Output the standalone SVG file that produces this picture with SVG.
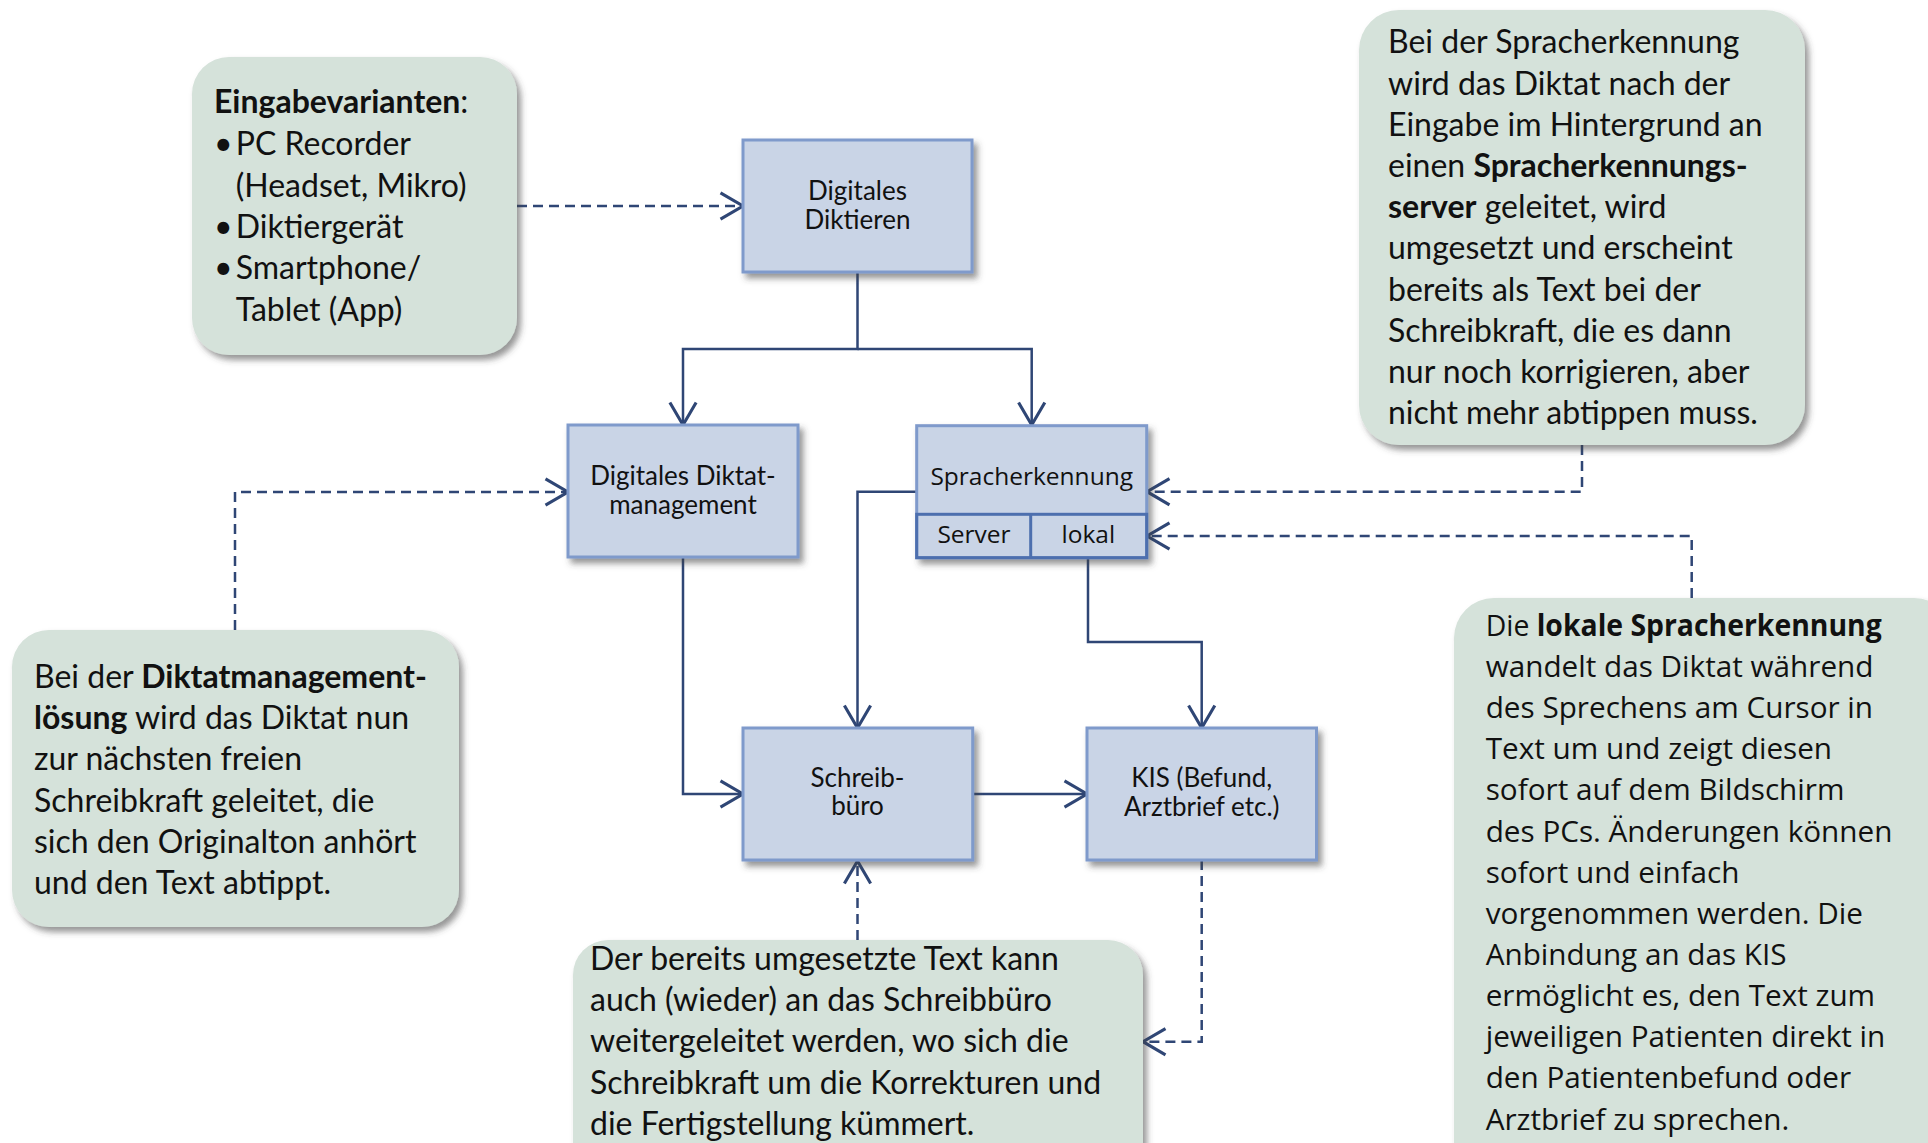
<svg xmlns="http://www.w3.org/2000/svg" width="1928" height="1143" viewBox="0 0 1928 1143">
<defs>
<filter id="sh" x="-10%" y="-10%" width="125%" height="125%">
<feGaussianBlur in="SourceAlpha" stdDeviation="3"/>
<feOffset dx="4" dy="5" result="b"/>
<feFlood flood-color="#404040" flood-opacity="0.55"/>
<feComposite in2="b" operator="in"/>
<feMerge><feMergeNode/><feMergeNode in="SourceGraphic"/></feMerge>
</filter>
<marker id="arr" markerUnits="userSpaceOnUse" markerWidth="30" markerHeight="30" viewBox="-20 -12 22 24" refX="0" refY="0" orient="auto">
<path d="M-18,-10.5 L0,0 L-18,10.5" fill="none" stroke="#2F4675" stroke-width="2.5" stroke-dasharray="none"/>
</marker>
</defs>
<style>
.note{fill:#D5E2DA;filter:url(#sh)}
.node{fill:#C9D4E6;stroke:#7F9ACB;stroke-width:3;filter:url(#sh)}
.sub{fill:none;stroke:#4D6FAE;stroke-width:3}
.cal{font-family:Lato,"Liberation Sans",sans-serif;fill:#111}
.nt{font-size:26px;text-anchor:middle}
.gt{font-size:32px}
.os{font-family:"Open Sans","Noto Sans",sans-serif;fill:#111}
.ost{font-size:24.5px;text-anchor:middle}
.b{font-weight:bold}
.ln{fill:none;stroke:#2F4675;stroke-width:2.5}
.ds{stroke-dasharray:10 6}
</style>

<g id="connectors">
<path class="ln" d="M857.5 272 V349 H683 V425" marker-end="url(#arr)"/>
<path class="ln" d="M857.5 349 H1031.7 V425" marker-end="url(#arr)"/>
<path class="ln" d="M683 557 V794 H743" marker-end="url(#arr)"/>
<path class="ln" d="M916.7 491.7 H857.5 V728" marker-end="url(#arr)"/>
<path class="ln" d="M1088 558 V642 H1201.7 V728" marker-end="url(#arr)"/>
<path class="ln" d="M972.7 794 H1087" marker-end="url(#arr)"/>
<path class="ln ds" d="M517 206 H743" marker-end="url(#arr)"/>
<path class="ln ds" d="M235 630 V492 H568" marker-end="url(#arr)"/>
<path class="ln ds" d="M1582 445 V491.7 H1147" marker-end="url(#arr)"/>
<path class="ln ds" d="M1691.7 598 V536 H1147" marker-end="url(#arr)"/>
<path class="ln ds" d="M857.5 940 V861" marker-end="url(#arr)"/>
<path class="ln ds" d="M1201.7 860 V1041.7 H1143" marker-end="url(#arr)"/>
</g>

<g id="n-diktieren">
<rect class="node" x="743" y="140" width="229" height="132"/>
<text class="cal nt" x="857.5" y="200">Digitales</text>
<text class="cal nt" x="857.5" y="228.5">Diktieren</text>
</g>

<g id="n-diktatmanagement">
<rect class="node" x="568" y="425" width="230" height="132"/>
<text class="cal nt" x="683" y="484.5">Digitales Diktat-</text>
<text class="cal nt" x="683" y="513.5">management</text>
</g>

<g id="n-spracherkennung">
<rect class="node" x="916.7" y="425.7" width="230" height="132"/>
<rect class="sub" x="916.7" y="514.3" width="230" height="43.4"/>
<line class="sub" x1="1030.7" y1="514.3" x2="1030.7" y2="557.7"/>
<text class="os ost" x="1031.7" y="485">Spracherkennung</text>
<text class="os ost" x="974" y="543.3">Server</text>
<text class="os ost" x="1088.3" y="542.7">lokal</text>
</g>

<g id="n-schreibbuero">
<rect class="node" x="743" y="728" width="229.7" height="132"/>
<text class="cal nt" x="857.5" y="786.7">Schreib-</text>
<text class="cal nt" x="857.5" y="815">büro</text>
</g>

<g id="n-kis">
<rect class="node" x="1087" y="728" width="229.5" height="132"/>
<text class="cal nt" x="1201.7" y="787">KIS (Befund,</text>
<text class="cal nt" x="1201.7" y="815.7">Arztbrief etc.)</text>
</g>

<g id="note-eingabe">
<rect class="note" x="192" y="57" width="325" height="298" rx="37"/>
<text class="cal gt" x="214" y="113"><tspan class="b">Eingabevarianten</tspan>:</text>
<text class="cal gt" x="214" y="155">•</text><text class="cal gt" x="235.7" y="155">PC Recorder</text>
<text class="cal gt" x="235.7" y="196.7">(Headset, Mikro)</text>
<text class="cal gt" x="214" y="238.3">•</text><text class="cal gt" x="235.7" y="238.3">Diktiergerät</text>
<text class="cal gt" x="214" y="279.3">•</text><text class="cal gt" x="235.7" y="279.3">Smartphone/</text>
<text class="cal gt" x="235.7" y="320.7">Tablet (App)</text>
</g>

<g id="note-server">
<rect class="note" x="1359" y="10" width="446" height="435" rx="40"/>
<text class="cal gt" x="1388" y="53.3">Bei der Spracherkennung</text>
<text class="cal gt" x="1388" y="94.5">wird das Diktat nach der</text>
<text class="cal gt" x="1388" y="135.7">Eingabe im Hintergrund an</text>
<text class="cal gt" x="1388" y="176.9">einen <tspan class="b">Spracherkennungs-</tspan></text>
<text class="cal gt" x="1388" y="218.1"><tspan class="b">server</tspan> geleitet, wird</text>
<text class="cal gt" x="1388" y="259.3">umgesetzt und erscheint</text>
<text class="cal gt" x="1388" y="300.5">bereits als Text bei der</text>
<text class="cal gt" x="1388" y="341.7">Schreibkraft, die es dann</text>
<text class="cal gt" x="1388" y="382.9">nur noch korrigieren, aber</text>
<text class="cal gt" x="1388" y="424.1">nicht mehr abtippen muss.</text>
</g>

<g id="note-diktatmanagement">
<rect class="note" x="12" y="630" width="447" height="297" rx="37"/>
<text class="cal gt" x="34" y="688">Bei der <tspan class="b">Diktatmanagement-</tspan></text>
<text class="cal gt" x="34" y="729.2"><tspan class="b">lösung</tspan> wird das Diktat nun</text>
<text class="cal gt" x="34" y="770.4">zur nächsten freien</text>
<text class="cal gt" x="34" y="811.6">Schreibkraft geleitet, die</text>
<text class="cal gt" x="34" y="852.8">sich den Originalton anhört</text>
<text class="cal gt" x="34" y="894">und den Text abtippt.</text>
</g>

<g id="note-korrektur">
<rect class="note" x="573" y="940" width="570" height="260" rx="35"/>
<text class="cal gt" x="590" y="969.5">Der bereits umgesetzte Text kann</text>
<text class="cal gt" x="590" y="1010.9">auch (wieder) an das Schreibbüro</text>
<text class="cal gt" x="590" y="1052.3">weitergeleitet werden, wo sich die</text>
<text class="cal gt" x="590" y="1093.7">Schreibkraft um die Korrekturen und</text>
<text class="cal gt" x="590" y="1135.1">die Fertigstellung kümmert.</text>
</g>

<g id="note-lokal">
<rect class="note" x="1454" y="598" width="500" height="620" rx="40"/>
<g class="os" font-size="29.7">
<text x="1485.7" y="635.7" textLength="396" lengthAdjust="spacingAndGlyphs">Die <tspan class="b">lokale Spracherkennung</tspan></text>
<text x="1485.7" y="676.9">wandelt das Diktat während</text>
<text x="1485.7" y="718">des Sprechens am Cursor in</text>
<text x="1485.7" y="759.2">Text um und zeigt diesen</text>
<text x="1485.7" y="800.3">sofort auf dem Bildschirm</text>
<text x="1485.7" y="841.5">des PCs. Änderungen können</text>
<text x="1485.7" y="882.6">sofort und einfach</text>
<text x="1485.7" y="923.8">vorgenommen werden. Die</text>
<text x="1485.7" y="964.9">Anbindung an das KIS</text>
<text x="1485.7" y="1006.1">ermöglicht es, den Text zum</text>
<text x="1485.7" y="1047.2">jeweiligen Patienten direkt in</text>
<text x="1485.7" y="1088.4">den Patientenbefund oder</text>
<text x="1485.7" y="1129.5">Arztbrief zu sprechen.</text>
</g>
</g>
</svg>
